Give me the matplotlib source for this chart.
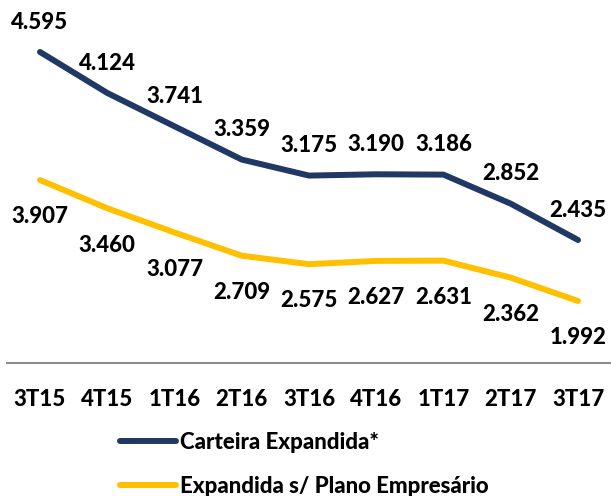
import matplotlib
matplotlib.use("Agg")
import matplotlib.pyplot as plt
from matplotlib import font_manager

categories = ["3T15", "4T15", "1T16", "2T16", "3T16", "4T16", "1T17", "2T17", "3T17"]
carteira = [4595, 4124, 3741, 3359, 3175, 3190, 3186, 2852, 2435]
sem_plano = [3907, 3460, 3077, 2709, 2575, 2627, 2631, 2362, 1992]

BLUE = "#1F3864"
YELLOW = "#FFC000"

plt.rcParams["font.family"] = ["Lato", "DejaVu Sans"]
WEIGHT = 900

W, H = 611, 496
fig = plt.figure(figsize=(W / 100, H / 100), dpi=100)
ax = fig.add_axes([7 / W, (H - 363) / H, (W - 7) / W, 363 / H])
ax2 = ax.twinx()

x = list(range(len(categories)))
l1, = ax.plot(x, carteira, color=BLUE, lw=4.3, solid_capstyle="round", solid_joinstyle="round",
              label="Carteira Expandida*")
l2, = ax2.plot(x, sem_plano, color=YELLOW, lw=4.3, solid_capstyle="round", solid_joinstyle="round",
               label="Expandida s/ Plano Empresário")

ax.set_xlim(-0.4907, 8.4907)
ax.set_ylim(1022, 5192)
ax2.set_ylim(1011, 6756)

def fmt(v):
    return f"{v:,}".replace(",", ".")

for xi, v in zip(x, carteira):
    ax.annotate(fmt(v), (xi, v), xytext=(0, 21.5), textcoords="offset points",
                ha="center", va="center", fontsize=16, fontweight=WEIGHT, color="black")
for xi, v in zip(x, sem_plano):
    ax2.annotate(fmt(v), (xi, v), xytext=(0, -26.5), textcoords="offset points",
                 ha="center", va="center", fontsize=16, fontweight=WEIGHT, color="black")

for s in ["top", "left", "right"]:
    ax.spines[s].set_visible(False)
    ax2.spines[s].set_visible(False)
ax2.spines["bottom"].set_visible(False)
ax.spines["bottom"].set_color("#8C8C8C")
ax.spines["bottom"].set_linewidth(1.5)
ax.set_yticks([])
ax2.set_yticks([])
ax.set_xticks(x)
ax.set_xticklabels(categories, fontsize=16, fontweight=WEIGHT)
ax.tick_params(axis="x", length=0, pad=19)

fig.legend(handles=[l1, l2], loc="upper left", bbox_to_anchor=(120 / W, 1 - 432 / H),
           frameon=False, prop={"size": 16, "weight": WEIGHT}, handlelength=2.5,
           handletextpad=0.2, labelspacing=1.02, borderpad=0, borderaxespad=0)

fig.savefig("out.png", dpi=100)
